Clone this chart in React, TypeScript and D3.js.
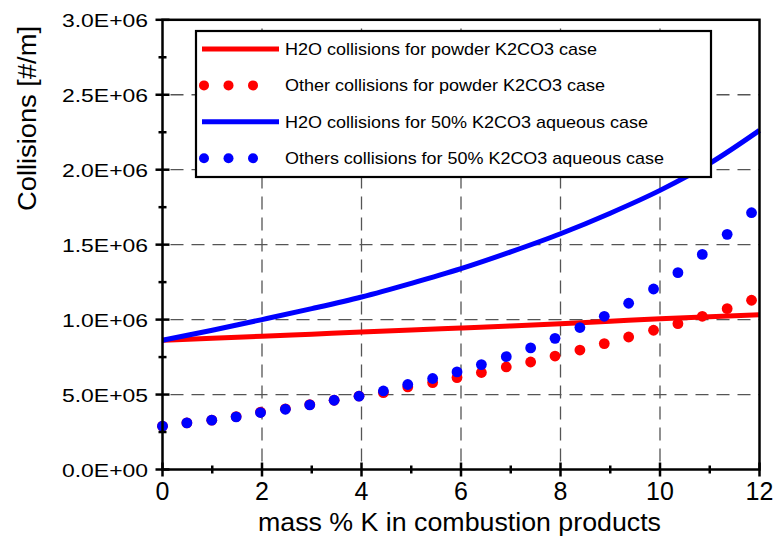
import React from "react";
import * as d3 from "d3";

// ---- data ----
const xTicks = [0, 2, 4, 6, 8, 10, 12];
const xMinor = [1, 3, 5, 7, 9, 11];
const yTicks = [0, 5e5, 1e6, 1.5e6, 2e6, 2.5e6, 3e6];
const yTickLabels = ["0.0E+00", "5.0E+05", "1.0E+06", "1.5E+06", "2.0E+06", "2.5E+06", "3.0E+06"];
const yMinor = [2.5e5, 7.5e5, 1.25e6, 1.75e6, 2.25e6, 2.75e6];

const lineX = [0, 1, 2, 3, 4, 5, 6, 7, 8, 9, 10, 11, 12];
const h2oPowder = [8.62e5, 8.76e5, 8.89e5, 9.03e5, 9.17e5, 9.3e5, 9.44e5, 9.58e5, 9.73e5, 9.89e5, 1.005e6, 1.019e6, 1.033e6];
const h2oAqueous = [8.62e5, 9.29e5, 1.0e6, 1.073e6, 1.151e6, 1.242e6, 1.34e6, 1.452e6, 1.573e6, 1.71e6, 1.862e6, 2.042e6, 2.262e6];

const dotX = [0, 0.49, 0.99, 1.48, 1.97, 2.47, 2.96, 3.45, 3.95, 4.44, 4.93, 5.43, 5.92, 6.41, 6.91, 7.4, 7.89, 8.39, 8.88, 9.37, 9.87, 10.36, 10.85, 11.35, 11.84];
const otherPowder = [2.89e5, 3.11e5, 3.29e5, 3.53e5, 3.83e5, 4.05e5, 4.33e5, 4.62e5, 4.9e5, 5.13e5, 5.51e5, 5.8e5, 6.13e5, 6.47e5, 6.84e5, 7.17e5, 7.57e5, 7.97e5, 8.4e5, 8.84e5, 9.29e5, 9.73e5, 1.022e6, 1.073e6, 1.129e6];
const otherAqueous = [2.89e5, 3.11e5, 3.29e5, 3.51e5, 3.8e5, 4.02e5, 4.31e5, 4.62e5, 4.89e5, 5.24e5, 5.67e5, 6.07e5, 6.51e5, 7.0e5, 7.53e5, 8.11e5, 8.75e5, 9.47e5, 1.022e6, 1.109e6, 1.204e6, 1.313e6, 1.435e6, 1.569e6, 1.713e6];

const legendLabels = [
  "H2O collisions for powder K2CO3 case",
  "Other collisions for powder K2CO3 case",
  "H2O collisions for 50% K2CO3 aqueous case",
  "Others collisions for 50% K2CO3 aqueous case",
];
const legendWidths = [312, 320, 363, 379];

const RED = "#ff0000";
const BLUE = "#0000ff";
const FONT = "'Liberation Sans', Arial, sans-serif";

export default function App() {
  const x = d3.scaleLinear().domain([0, 12]).range([162.5, 759.5]);
  const y = d3.scaleLinear().domain([0, 3e6]).range([469.5, 19.8]);
  const L = x(0), R = x(12), T = y(3e6), B = y(0);

  const line = d3
    .line<number>()
    .x((_, i) => x(lineX[i]))
    .y((d) => y(d))
    .curve(d3.curveMonotoneX);

  const gridV = xTicks.filter((v) => v > 0 && v < 12);
  const gridH = yTicks.filter((v) => v > 0 && v < 3e6);

  const legendRows = [
    { kind: "line", color: RED },
    { kind: "dots", color: RED },
    { kind: "line", color: BLUE },
    { kind: "dots", color: BLUE },
  ];

  return (
    <svg
      width={773}
      height={541}
      style={{ position: "absolute", left: 0, top: 0, background: "#fff" }}
      fontFamily={FONT}
    >
      <rect x={0} y={0} width={773} height={541} fill="#fff" />
      {/* grid */}
      <g stroke="#555" strokeWidth={1.3} strokeDasharray="13,8">
        {gridV.map((v) => (
          <line key={"gv" + v} x1={x(v)} x2={x(v)} y1={B - 8} y2={T} />
        ))}
        {gridH.map((v) => (
          <line key={"gh" + v} x1={L + 8} x2={R} y1={y(v)} y2={y(v)} />
        ))}
      </g>

      {/* lines */}
      <path d={line(h2oPowder) || ""} fill="none" stroke={RED} strokeWidth={5} />
      <path d={line(h2oAqueous) || ""} fill="none" stroke={BLUE} strokeWidth={5} />

      {/* dots */}
      {otherPowder.map((v, i) => (
        <circle key={"rp" + i} cx={x(dotX[i])} cy={y(v)} r={5.4} fill={RED} />
      ))}
      {otherAqueous.map((v, i) => (
        <circle key={"bp" + i} cx={x(dotX[i])} cy={y(v)} r={5.4} fill={BLUE} />
      ))}

      {/* frame */}
      <rect x={L} y={T} width={R - L} height={B - T} fill="none" stroke="#000" strokeWidth={2.5} />

      {/* ticks */}
      <g stroke="#000" strokeWidth={2.5}>
        {yTicks.map((v) => (
          <line key={"yt" + v} x1={L - 7} x2={L + 7} y1={y(v)} y2={y(v)} />
        ))}
        {yMinor.map((v) => (
          <line key={"ym" + v} x1={L - 4} x2={L + 4} y1={y(v)} y2={y(v)} />
        ))}
        {xTicks.map((v) => (
          <line key={"xt" + v} x1={x(v)} x2={x(v)} y1={B - 7} y2={B + 7} />
        ))}
        {xMinor.map((v) => (
          <line key={"xm" + v} x1={x(v)} x2={x(v)} y1={B - 4} y2={B + 4} />
        ))}
      </g>

      {/* tick labels */}
      {yTicks.map((v, i) => (
        <text
          key={"yl" + v}
          x={148}
          y={y(v) + 7}
          textAnchor="end"
          fontSize={19}
          textLength={86}
          lengthAdjust="spacingAndGlyphs"
          fill="#000"
        >
          {yTickLabels[i]}
        </text>
      ))}
      {xTicks.map((v) => (
        <text key={"xl" + v} x={x(v)} y={500} textAnchor="middle" fontSize={25} fill="#000">
          {String(v)}
        </text>
      ))}

      {/* axis titles */}
      <text x={258} y={531} fontSize={26} textLength={403} lengthAdjust="spacingAndGlyphs" fill="#000">
        mass % K in combustion products
      </text>
      <text
        transform="translate(36,211) rotate(-90)"
        x={0}
        y={0}
        fontSize={26}
        textLength={185}
        lengthAdjust="spacingAndGlyphs"
        fill="#000"
      >
        Collisions [#/m]
      </text>

      {/* legend */}
      <rect x={196} y={31} width={515} height={146} fill="#fff" stroke="#000" strokeWidth={2.2} />
      {legendRows.map((row, i) => {
        const base = 55 + i * 36.4;
        const cy = base - 6;
        return (
          <g key={"lg" + i}>
            {row.kind === "line" ? (
              <line x1={202} x2={279} y1={cy} y2={cy} stroke={row.color} strokeWidth={5} />
            ) : (
              [204, 228.5, 253].map((cx) => <circle key={cx} cx={cx} cy={cy} r={5} fill={row.color} />)
            )}
            <text
              x={285}
              y={base}
              fontSize={17}
              textLength={legendWidths[i]}
              lengthAdjust="spacingAndGlyphs"
              fill="#000"
            >
              {legendLabels[i]}
            </text>
          </g>
        );
      })}
    </svg>
  );
}
